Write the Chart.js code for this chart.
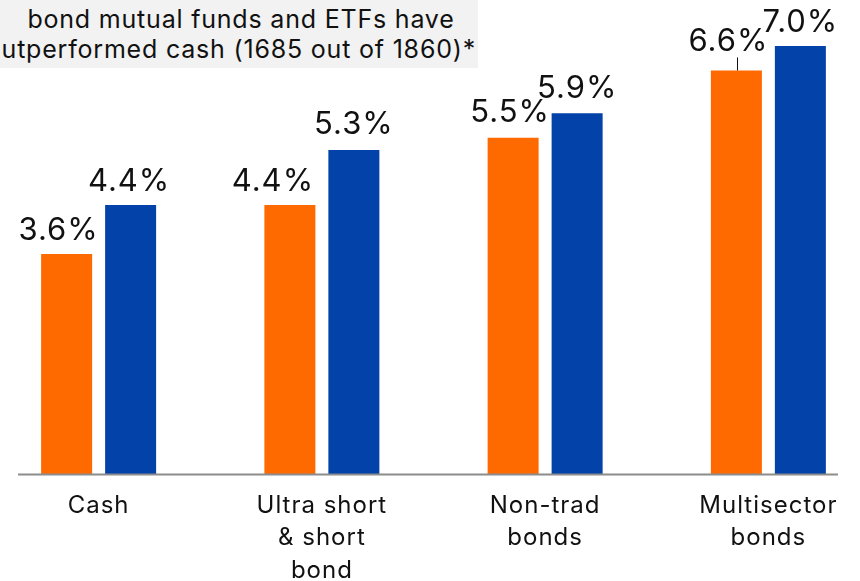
<!DOCTYPE html>
<html>
<head>
<meta charset="utf-8">
<script src="https://cdn.jsdelivr.net/npm/chart.js@4.4.1/dist/chart.umd.min.js"></script>
<style>
  html, body { margin: 0; padding: 0; width: 860px; height: 581px; overflow: hidden; background: #fff; }
  #wrap { position: absolute; left: -13px; top: 0; width: 893px; height: 581px; }
  #note { position: absolute; left: 0; top: 0; width: 478px; height: 68px; background: #f2f2f2; }
  .nl { position: absolute; font-family: Inter, "Noto Sans", sans-serif; font-size: 25px; line-height: 25px; letter-spacing: 0.8px; color: #111; white-space: nowrap; }
  #l1 { left: 0; width: 482px; text-align: center; top: 7px; }
  #l2 { right: 2px; top: 37px; }
</style>
</head>
<body>
<div id="note">
  <div class="nl" id="l1">bond mutual funds and ETFs have</div>
  <div class="nl" id="l2">outperformed cash (1685 out of 1860)*</div>
</div>
<div id="wrap"><canvas id="c" width="893" height="581"></canvas></div>
<script>
const categories = [["Cash"], ["Ultra short", "& short", "bond"], ["Non-trad", "bonds"], ["Multisector", "bonds"]];
const seriesOrange = [3.6, 4.4, 5.5, 6.6];
const seriesBlue = [4.4, 5.3, 5.9, 7.0];

const labelShift = { 0: [-8, -17, -3, -8], 1: [-1.5, 0, 0, 0] };
const labelGap = { 0: [14, 14, 16, 19], 1: [14, 16, 15, 14] };

const spacing = {
  id: 'spacing',
  beforeLayout(chart) { chart.ctx.letterSpacing = '1px'; },
  beforeDraw(chart) { chart.ctx.letterSpacing = '1px'; }
};

const valueLabels = {
  id: 'valueLabels',
  afterDatasetsDraw(chart) {
    const ctx = chart.ctx;
    ctx.save();
    ctx.letterSpacing = '1px';
    ctx.font = '31px Inter, "Noto Sans", sans-serif';
    ctx.fillStyle = '#111';
    ctx.textAlign = 'center';
    ctx.textBaseline = 'alphabetic';
    chart.data.datasets.forEach((ds, di) => {
      chart.getDatasetMeta(di).data.forEach((bar, i) => {
        const x = bar.x + labelShift[di][i];
        const y = bar.y - labelGap[di][i];
        ctx.fillText(ds.data[i].toFixed(1) + '%', x, y);
        if (di === 0 && i === 3) {
          ctx.strokeStyle = '#111';
          ctx.lineWidth = 1;
          ctx.beginPath();
          ctx.moveTo(Math.round(bar.x + 1) + 0.5, bar.y - 13);
          ctx.lineTo(Math.round(bar.x + 1) + 0.5, bar.y);
          ctx.stroke();
        }
      });
    });
    const yb = chart.chartArea.bottom;
    ctx.strokeStyle = '#8c8c8c';
    ctx.lineWidth = 2;
    ctx.beginPath();
    ctx.moveTo(31, yb + 0.5);
    ctx.lineTo(851, yb + 0.5);
    ctx.stroke();
    ctx.restore();
  }
};

new Chart(document.getElementById('c'), {
  type: 'bar',
  data: {
    labels: categories,
    datasets: [
      { data: seriesOrange, backgroundColor: '#ff6a00' },
      { data: seriesBlue, backgroundColor: '#0242a9' }
    ]
  },
  options: {
    responsive: false,
    animation: false,
    devicePixelRatio: 1,
    layout: { padding: { top: 46, left: 0, right: 0, bottom: 0 } },
    plugins: { legend: { display: false }, tooltip: { enabled: false } },
    datasets: { bar: { categoryPercentage: 0.5733, barPercentage: 0.797 } },
    scales: {
      y: { display: false, min: 0, max: 7 },
      x: {
        grid: { display: false, drawTicks: false },
        border: { display: false },
        ticks: {
          autoSkip: false, maxRotation: 0, padding: 16,
          color: '#111',
          font: { family: 'Inter, "Noto Sans", sans-serif', size: 24, lineHeight: 1.34 }
        },
        afterFit(s) { s.height = 107; }
      }
    }
  },
  plugins: [spacing, valueLabels]
});
</script>
</body>
</html>
